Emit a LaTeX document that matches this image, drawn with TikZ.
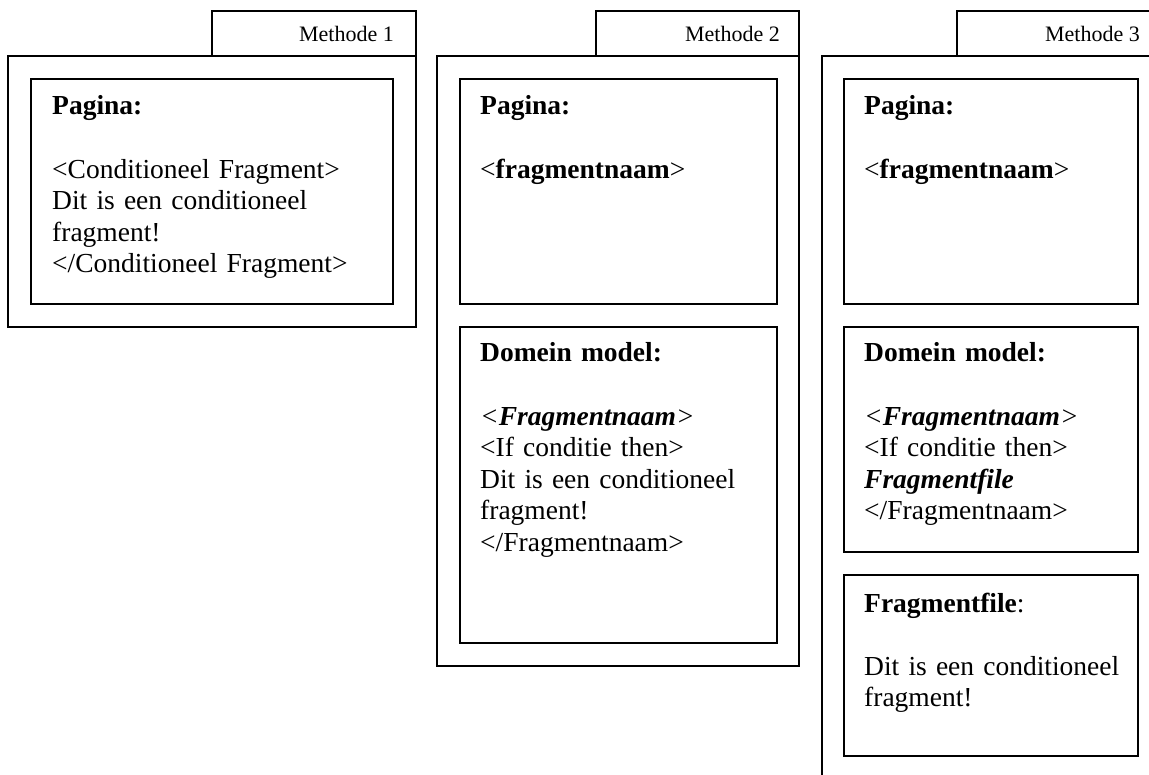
\documentclass[tikz,border=0pt]{standalone}
\usepackage{fontspec}
\setmainfont{Liberation Serif}
\begin{document}
\begin{tikzpicture}[x=1pt,y=-1pt]
\tikzset{
  frame/.style={draw, line width=1.6pt, inner sep=0pt, outer sep=0pt, anchor=north west},
  body/.style={anchor=base west, inner sep=0pt, align=left, text width=330pt,
               font=\fontsize{27.5pt}{31.6pt}\selectfont},
  tabtext/.style={anchor=base east, inner sep=0pt, font=\fontsize{22pt}{26pt}\selectfont}
}
\clip (0,0) rectangle (1149,775);
\fill[white] (0,0) rectangle (1149,775);

% Methode 1
\node[frame, minimum width=204pt, minimum height=45pt] (tab1) at (212,11) {};
\node[frame, minimum width=408pt, minimum height=271pt] (m1) at (8,56) {};
\node[frame, minimum width=362pt, minimum height=225pt] (p1) at (31,79) {};
\node[tabtext] (l1) at (394,42) {Methode 1};
\node[body] (t1) at (52,115) {\textbf{Pagina:}\\[31.6pt]
  <Conditioneel Fragment>\\
  Dit is een conditioneel\\
  fragment!\\
  </Conditioneel Fragment>};

% Methode 2
\node[frame, minimum width=203pt, minimum height=45pt] (tab2) at (596,11) {};
\node[frame, minimum width=362pt, minimum height=610pt] (m2) at (437,56) {};
\node[frame, minimum width=317pt, minimum height=225pt] (p2) at (460,79) {};
\node[frame, minimum width=317pt, minimum height=316pt] (d2) at (460,327) {};
\node[tabtext] (l2) at (780,42) {Methode 2};
\node[body] (t2) at (480,115) {\textbf{Pagina:}\\[31.6pt]
  <\textbf{fragmentnaam}>};
\node[body] (u2) at (480,362) {\textbf{Domein model:}\\[31.6pt]
  \textit{<\textbf{Fragmentnaam}>}\\
  <If conditie then>\\
  Dit is een conditioneel\\
  fragment!\\
  </Fragmentnaam>};

% Methode 3
\node[frame, minimum width=220pt, minimum height=45pt] (tab3) at (957,11) {};
\node[frame, minimum width=360pt, minimum height=760pt] (m3) at (822,56) {};
\node[frame, minimum width=294pt, minimum height=225pt] (p3) at (844,79) {};
\node[frame, minimum width=294pt, minimum height=225pt] (d3) at (844,327) {};
\node[frame, minimum width=294pt, minimum height=181pt] (f3) at (844,575) {};
\node[tabtext] (l3) at (1140,42) {Methode 3};
\node[body] (t3) at (864,115) {\textbf{Pagina:}\\[31.6pt]
  <\textbf{fragmentnaam}>};
\node[body] (u3) at (864,362) {\textbf{Domein model:}\\[31.6pt]
  \textit{<\textbf{Fragmentnaam}>}\\
  <If conditie then>\\
  \textit{\textbf{Fragmentfile}}\\
  </Fragmentnaam>};
\node[body] (v3) at (864,612) {\textbf{Fragmentfile}:\\[31.6pt]
  Dit is een conditioneel\\
  fragment!};
\end{tikzpicture}
\end{document}
